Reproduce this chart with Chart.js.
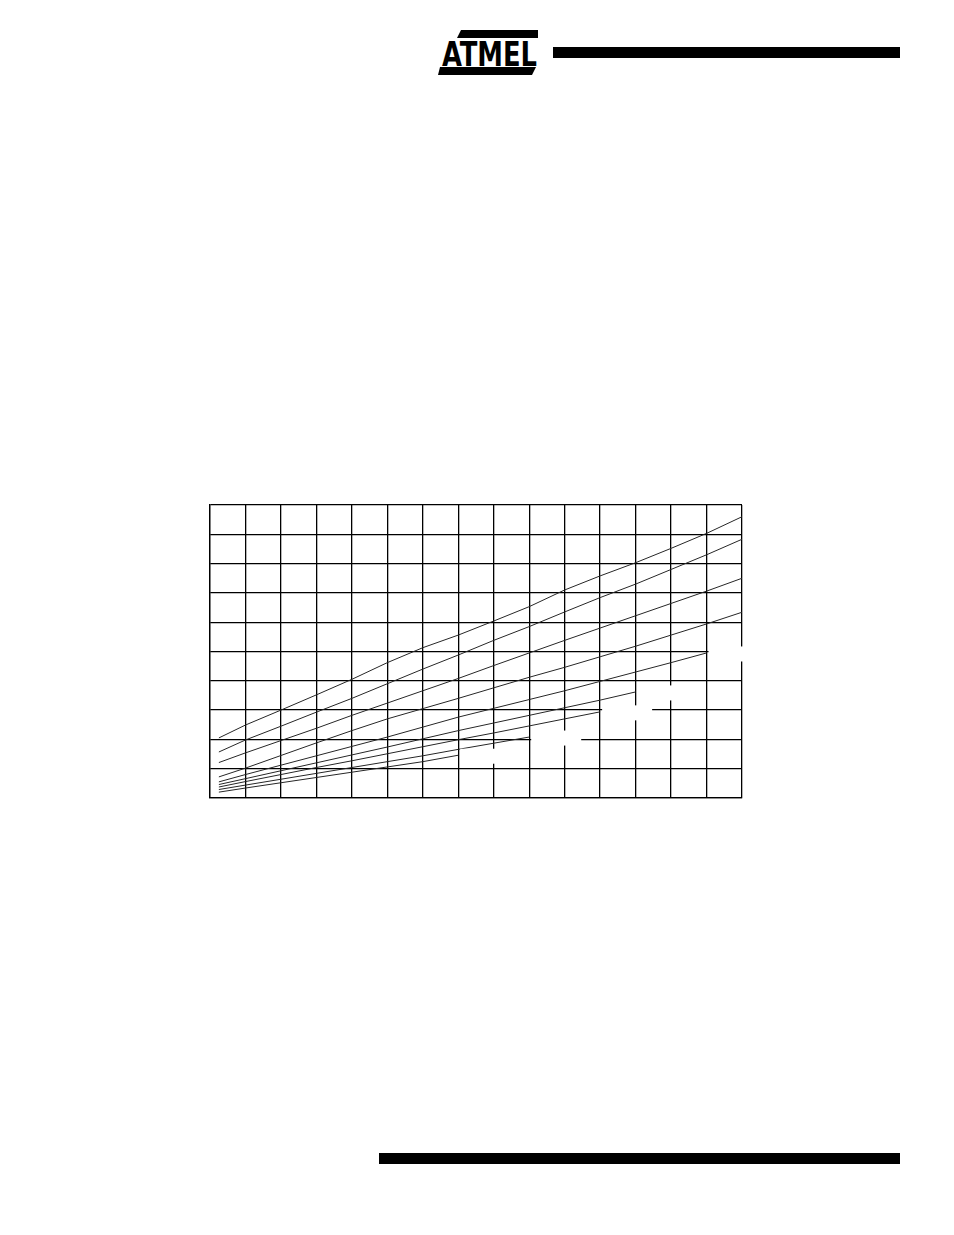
<!DOCTYPE html>
<html>
<head>
<meta charset="utf-8">
<script src="https://cdn.jsdelivr.net/npm/chart.js@4"></script>
<style>
  html, body { margin: 0; padding: 0; background: #fff; }
  body { width: 954px; height: 1235px; position: relative; overflow: hidden; }
  #topbar { position: absolute; left: 553px; top: 47px; width: 347px; height: 10.5px; background: #000; }
  #botbar { position: absolute; left: 379px; top: 1153px; width: 521px; height: 11px; background: #000; }
  #logo { position: absolute; left: 436px; top: 28px; overflow: visible; }
  #wrap { position: absolute; left: 200px; top: 495px; width: 560px; height: 320px; }
</style>
</head>
<body>
<div id="topbar"></div>
<div id="botbar"></div>
<svg id="logo" width="106" height="52" viewBox="0 0 106 52">
  <polygon points="25,2 102,2 102,10 21,10" fill="#000"/>
  <polygon points="4,39 100,39 96,47 2,47" fill="#000"/>
  <text x="6" y="38" font-family="Liberation Sans Narrow, DejaVu Sans Condensed, Liberation Sans" font-weight="bold" font-size="34" textLength="95" lengthAdjust="spacingAndGlyphs" fill="#000">ATMEL</text>
</svg>
<div id="wrap"><canvas id="c" width="560" height="320"></canvas></div>
<script>
// frequency-like x positions of the measured points
const xValues = [0.25, 1, 2, 3, 4, 5, 6, 7, 8, 9, 10, 11, 12, 13, 14, 15];
// curves from top to bottom
const series1 = [2.05, 2.49, 3.00, 3.52, 4.05, 4.62, 5.13, 5.56, 6.04, 6.53, 7.10, 7.58, 8.03, 8.52, 9.03, 9.60];
const series2 = [1.57, 1.98, 2.45, 2.93, 3.40, 3.90, 4.40, 4.88, 5.38, 5.85, 6.35, 6.84, 7.30, 7.80, 8.30, 8.83];
const series3 = [1.21, 1.54, 1.96, 2.38, 2.82, 3.24, 3.66, 4.08, 4.52, 4.95, 5.38, 5.80, 6.22, 6.64, 7.06, 7.50];
const series4 = [0.72, 1.02, 1.45, 1.88, 2.30, 2.70, 3.05, 3.40, 3.76, 4.12, 4.46, 4.82, 5.18, 5.56, 5.94, 6.34];
const series5 = [0.55, 0.80, 1.12, 1.44, 1.76, 2.08, 2.42, 2.76, 3.06, 3.36, 3.66, 3.98, 4.30, 4.62, 4.95];
const series6 = [0.46, 0.66, 0.93, 1.20, 1.47, 1.74, 2.02, 2.30, 2.56, 2.82, 3.08, 3.34, 3.62];
const series7 = [0.375, 0.56, 0.80, 1.04, 1.27, 1.51, 1.75, 1.99, 2.22, 2.46, 2.70, 2.94];
const series8 = [0.29, 0.44, 0.64, 0.84, 1.04, 1.24, 1.44, 1.66, 1.87, 2.08];
const series9 = [0.20, 0.34, 0.52, 0.70, 0.88, 1.06, 1.24, 1.46];
const allSeries = [series1, series2, series3, series4, series5, series6, series7, series8, series9];
const xMin = 0, xMax = 15, yMin = 0, yMax = 10;

const datasets = allSeries.map((s, i) => ({
  label: 'curve ' + (i + 1),
  data: s.map((v, k) => ({ x: xValues[k], y: v })),
  borderColor: '#262626',
  borderWidth: 1,
  pointRadius: 0,
  tension: 0,
  fill: false
}));

// blank label boxes that sit right of each curve's end (their text is empty)
const labelBoxes = {
  id: 'labelBoxes',
  afterDatasetsDraw(chart) {
    const ctx = chart.ctx;
    const xs = chart.scales.x, ys = chart.scales.y;
    ctx.save();
    ctx.fillStyle = '#fff';
    chart.data.datasets.forEach(ds => {
      const last = ds.data[ds.data.length - 1];
      if (last.x >= xMax) return;
      const px = xs.getPixelForValue(last.x);
      const py = ys.getPixelForValue(last.y);
      ctx.fillRect(px + 2, py - 6.5, 50, 15);
    });
    ctx.restore();
  }
};

const axisCommon = {
  type: 'linear',
  ticks: { display: false, stepSize: 1 },
  grid: { color: '#000', lineWidth: 1.3, drawTicks: false },
  border: { display: true, color: '#000', width: 1.3 }
};

new Chart(document.getElementById('c'), {
  type: 'line',
  data: { datasets },
  options: {
    responsive: false,
    animation: false,
    devicePixelRatio: 1,
    layout: { padding: { left: 10, top: 10, right: 18, bottom: 17 } },
    plugins: { legend: { display: false }, tooltip: { enabled: false } },
    scales: {
      x: Object.assign({}, axisCommon, { min: xMin, max: xMax }),
      y: Object.assign({}, axisCommon, { min: yMin, max: yMax })
    }
  },
  plugins: [labelBoxes]
});
</script>
</body>
</html>
